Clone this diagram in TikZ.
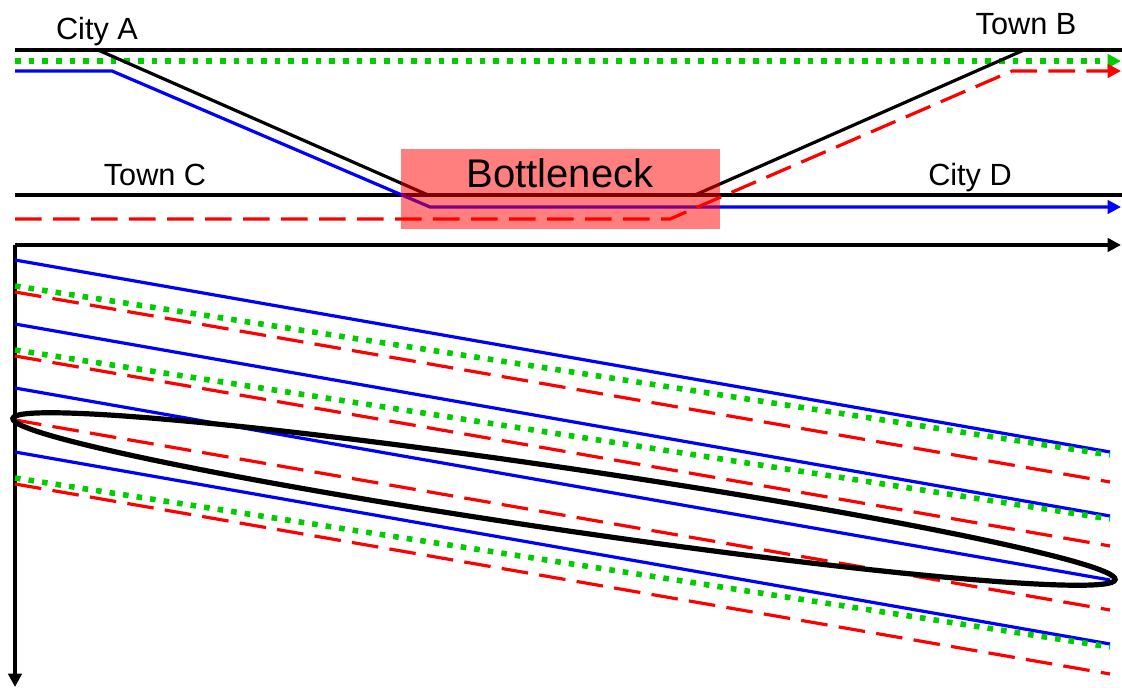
\documentclass[tikz,border=0pt]{standalone}
\usepackage{fontspec}
\setmainfont{Liberation Sans}
\usetikzlibrary{arrows.meta}
\definecolor{lanegreen}{RGB}{0,204,0}

\begin{document}
\begin{tikzpicture}[x=0.75pt, y=-0.75pt,
	road/.style = {line width=3pt},
	bluelane/.style = {blue, line width=2.4pt},
	redlane/.style = {red, line width=2.4pt, dash pattern=on 20pt off 8.5pt},
	greenlane/.style = {lanegreen, line width=4.2pt, dash pattern=on 4.2pt off 6.05pt},
	lanetip/.style = {-{Triangle[length=10pt,width=10pt]}},
	place/.style = {font=\fontsize{23}{27}\selectfont, anchor=base, inner sep=0pt}]
	\useasboundingbox (0,0) rectangle (1122,688);
	% road map
	\coordinate (ramp1) at (98,50);
	\coordinate (merge1) at (428,195);
	\coordinate (merge2) at (695,195);
	\coordinate (ramp2) at (1024,50);
	\draw[greenlane, lanetip] (15,61) -- (1121,61);
	\draw[road] (15,50) -- (1122,50);
	\draw[road] (15,195) -- (1122,195);
	\draw[road, line width=2.4pt] (ramp1) -- (merge1);
	\draw[road, line width=2.4pt] (merge2) -- (ramp2);
	\draw[bluelane, lanetip] (15,71) -- (112,71) -- (430,207) -- (1121,207);
	\draw[redlane, lanetip] (15,219) -- (670,219) -- (1012,71) -- (1121,71);
	\fill[red, opacity=0.5] (401,149) rectangle (720,229);
	\node[place] (cityA) at (97,40) {City A};
	\node[place] (townB) at (1026,35) {Town B};
	\node[place] (townC) at (155,186) {Town C};
	\node[place] (cityD) at (970,186) {City D};
	\node[place, font=\fontsize{30}{34}\selectfont] (neck) at (560,188) {Bottleneck};
	% time axes
	\coordinate (O) at (15,245);
	\draw[road, lanetip] (O) -- (1121,245);
	\draw[road, lanetip] (O) -- (15,687);
	\foreach \i in {0,1,2,3} {
		\draw[bluelane] (15,{260+64*\i}) -- (1110,{452+64*\i});
		\draw[redlane] (15,{292+64*\i}) -- (1110,{482+64*\i});
	}
	\foreach \i in {0,1,3}
		\draw[greenlane] (15,{286+64*\i}) -- (1110,{455+64*\i});
	\draw[line width=3.9pt, rotate around={-8.32:(564,499)}] (564,499) ellipse [x radius=557, y radius=31];
\end{tikzpicture}
\end{document}
